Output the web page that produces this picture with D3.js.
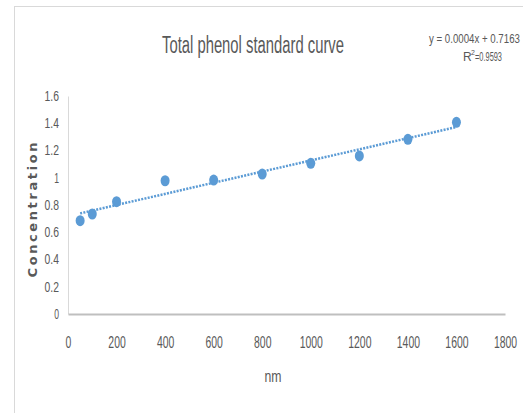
<!DOCTYPE html>
<html>
<head>
<meta charset="utf-8">
<script src="https://cdn.jsdelivr.net/npm/d3@7"></script>
<style>
  body { margin: 0; background: #fff; }
  text { font-family: "Liberation Sans Narrow", "Liberation Sans", "Open Sans", sans-serif; fill: #595959; }
</style>
</head>
<body>
<div id="chart"></div>
<script>
const xValues = [50, 100, 200, 400, 600, 800, 1000, 1200, 1400, 1600];
const yValues = [0.685, 0.734, 0.824, 0.978, 0.983, 1.027, 1.106, 1.16, 1.282, 1.407];
const xTicks = [0, 200, 400, 600, 800, 1000, 1200, 1400, 1600, 1800];
const yTicks = [0, 0.2, 0.4, 0.6, 0.8, 1, 1.2, 1.4, 1.6];
const yTickLabels = ["0", "0.2", "0.4", "0.6", "0.8", "1", "1.2", "1.4", "1.6"];

const W = 523, H = 413;
const blue = "#5b9bd5";

const svg = d3.select("#chart").append("svg")
  .attr("width", W)
  .attr("height", H);

// chart frame
svg.append("rect")
  .attr("x", 14.5).attr("y", 6.5)
  .attr("width", 520).attr("height", 420)
  .attr("fill", "#fff")
  .attr("stroke", "#d9d9d9");

const x = d3.scaleLinear().domain([0, 1800]).range([68, 505]);
const y = d3.scaleLinear().domain([0, 1.6]).range([314, 96]);

// y axis
const yAxis = svg.append("g")
  .attr("transform", "translate(68,0)")
  .call(d3.axisLeft(y).tickValues(yTicks).tickSize(0).tickPadding(9)
    .tickFormat((d, i) => yTickLabels[i]));
yAxis.select(".domain").attr("stroke", "#d9d9d9").attr("stroke-width", 1);
yAxis.selectAll("text")
  .style("font-size", "14px")
  .attr("textLength", (d, i) => yTickLabels[i].length * 4.8)
  .attr("lengthAdjust", "spacingAndGlyphs");

// x axis
const xAxis = svg.append("g")
  .attr("transform", "translate(0,314)")
  .call(d3.axisBottom(x).tickValues(xTicks).tickSize(0).tickPadding(22)
    .tickFormat(d3.format("d")));
xAxis.select(".domain").attr("stroke", "#bfbfbf").attr("stroke-width", 2);
xAxis.selectAll("text")
  .style("font-size", "17px")
  .attr("textLength", (d) => String(d).length * 5.8)
  .attr("lengthAdjust", "spacingAndGlyphs");

// trendline (least squares)
const mx = d3.mean(xValues), my = d3.mean(yValues);
const slope = d3.sum(xValues, (v, i) => (v - mx) * (yValues[i] - my)) /
  d3.sum(xValues, (v) => (v - mx) * (v - mx));
const intercept = my - slope * mx;
const x0 = d3.min(xValues), x1 = d3.max(xValues);

svg.append("line")
  .attr("x1", x(x0)).attr("y1", y(slope * x0 + intercept))
  .attr("x2", x(x1)).attr("y2", y(slope * x1 + intercept))
  .attr("stroke", blue)
  .attr("stroke-width", 2.5)
  .attr("stroke-dasharray", "2,1.3");

// points
svg.selectAll(".pt")
  .data(xValues)
  .enter()
  .append("ellipse")
  .attr("class", "pt")
  .attr("cx", (d) => x(d))
  .attr("cy", (d, i) => y(yValues[i]))
  .attr("rx", 4.5)
  .attr("ry", 5.5)
  .attr("fill", blue);

// title
svg.append("text")
  .attr("x", 253).attr("y", 53)
  .attr("text-anchor", "middle")
  .style("font-size", "23px")
  .attr("textLength", 182)
  .attr("lengthAdjust", "spacingAndGlyphs")
  .text("Total phenol standard curve");

// trendline label, squeezed to fit the corner
const eq = svg.append("text")
  .style("font-size", "12px")
  .text("y = 0.0004x + 0.7163");
const eqW = eq.node().getComputedTextLength();
eq.attr("transform", `translate(429,43) scale(${91 / eqW},1)`);

svg.append("text")
  .attr("x", 463).attr("y", 61)
  .style("font-size", "12px")
  .text("R");
svg.append("text")
  .attr("x", 471).attr("y", 55)
  .style("font-size", "7px")
  .text("2");
svg.append("text")
  .attr("x", 475).attr("y", 61)
  .style("font-size", "12px")
  .attr("textLength", 27)
  .attr("lengthAdjust", "spacingAndGlyphs")
  .text("=0.9593");

// axis titles
svg.append("text")
  .attr("x", 273).attr("y", 382)
  .attr("text-anchor", "middle")
  .style("font-size", "16px")
  .attr("textLength", 17)
  .attr("lengthAdjust", "spacingAndGlyphs")
  .text("nm");

svg.append("text")
  .attr("transform", "translate(37,210) rotate(-90)")
  .attr("text-anchor", "middle")
  .style("font-family", "'DejaVu Sans', sans-serif")
  .style("font-size", "13px")
  .style("font-weight", "bold")
  .attr("textLength", 135)
  .attr("lengthAdjust", "spacing")
  .text("Concentration");
</script>
</body>
</html>
